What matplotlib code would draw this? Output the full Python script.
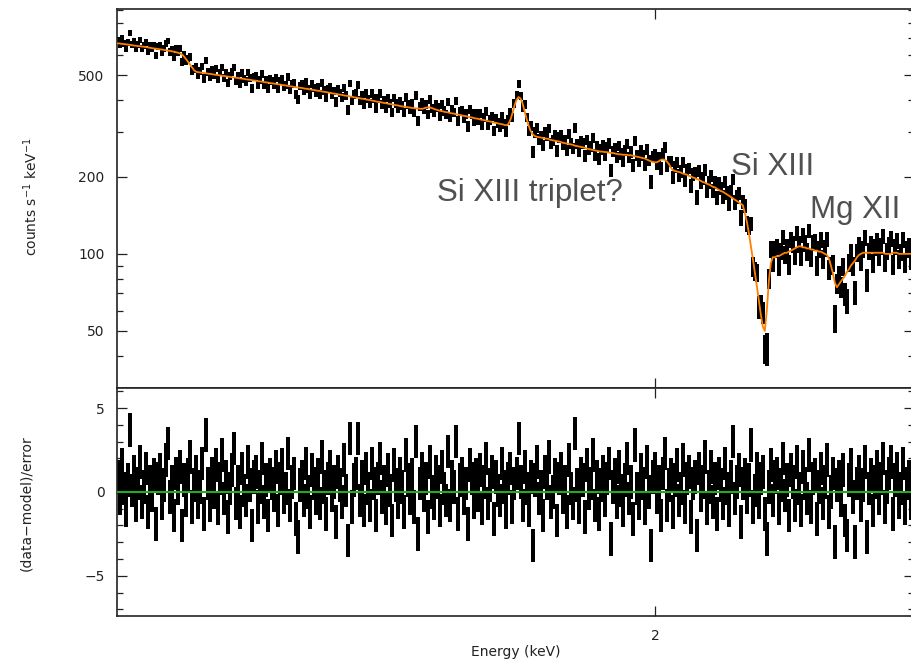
import numpy as np
import matplotlib
matplotlib.use('Agg')
import matplotlib.pyplot as plt
from matplotlib.ticker import FixedLocator, FixedFormatter, NullFormatter

# Energy range of the spectrum (keV), log binned
e_min, e_max = 1.465, 2.323

# Model (counts s^-1 keV^-1) per bin
model_counts = [
    # continuum before the first edge
    665, 664, 662, 661, 659, 658, 656, 654, 652, 651, 649, 648, 646, 645, 643, 641, 639, 637, 635, 634,
    632, 630, 629, 627, 625, 623, 621, 619, 617, 614, 611, 607, 602,
    # edge
    590, 577, 563, 549, 535, 522, 515,
    513, 512, 510, 509, 508, 506, 505, 504, 502, 501, 500, 498, 497, 496, 494, 493, 492, 490, 489, 488,
    487, 485, 484, 483, 481, 480, 479, 477, 476, 475, 473, 472, 471, 469, 468, 467, 465, 464, 463, 461,
    460, 459, 457, 456, 455, 453, 452, 451, 449, 448, 447,
    446, 445, 443, 442, 441, 439, 438, 437, 435, 434, 433, 431, 430, 429, 427, 426, 424, 423, 422, 420,
    419, 418, 416, 415, 414, 412, 411, 409, 408, 407, 405, 404, 403, 401, 400, 399, 397, 396, 394, 393,
    392, 390, 389, 388, 386, 385, 384, 382, 381, 380, 378,
    377, 376, 375, 374, 373, 372, 371, 370, 370, 369, 369, 371, 373, 374, 373, 371, 368, 366, 364, 362,
    361, 359, 358, 357, 355, 354, 353, 351, 350, 349, 347, 346, 345, 343, 342, 341, 339, 338, 337, 335,
    334, 333, 331, 330, 329, 327, 326, 325, 323, 322, 321, 319, 318,
    # Si XIII triplet emission
    322, 335, 355, 380, 400, 410, 405, 388, 362, 338, 318, 303, 294, 289, 287, 286, 285,
    284, 283, 282, 281, 279, 278, 277, 276, 275, 274, 272, 271, 270, 269, 268, 267, 265, 264, 263, 262,
    261, 260, 258, 257, 256, 255, 254, 253, 252, 251,
    251, 250, 250, 249, 248, 248, 247, 246, 245, 245, 244, 244, 244, 243, 243, 242, 241, 240, 239, 238,
    237, 236, 234, 232, 230, 229, 228, 228, 230, 233, 234,
    233, 230, 225, 218, 213, 211, 210, 209, 208, 206, 205, 204, 202, 201, 199, 198, 196, 195, 193, 191,
    190, 188, 187, 185, 183, 182, 180, 178, 176, 175, 173, 171, 169, 167, 165, 163, 161, 159, 157, 155,
    # Si XIII absorption
    145, 134, 121, 108, 96, 85, 75, 66, 58, 52, 50, 60, 78, 92, 97,
    97, 98, 98, 99, 100, 101, 101, 102, 103, 104, 105, 106, 107, 107, 106, 106, 105, 105, 104, 104,
    103, 103, 102, 102, 101, 100, 99,
    # Mg XII absorption
    96, 90, 84, 77, 74, 76, 78, 80, 82, 85, 87, 90, 92, 94, 97, 99, 100,
    101, 101, 101, 101, 101, 101, 101, 101, 101, 101, 101, 100, 100, 100, 100, 101, 101, 101, 100, 100,
    100, 100, 100, 100, 100, 100,
]

# (data-model)/error per bin
residuals = [
    0.9, -0.4, 1.6, 0.2, -1.1, 0.7, 3.7, 0.1, 1.2, -0.8, 0.5, 1.8, -0.6, 0.3, 1.4, -1.2, 0.6, -0.2, 1.0, -1.9,
    0.8, 1.3, -0.7, 0.4, 1.9, 2.9, -0.3, 0.6, -1.4, 1.1, 0.2, 1.5, -2.0, 0.7, -0.5, 1.0, 2.1, -0.9, 0.4, 1.2,
    -0.6, 0.3, 1.7, -1.3, 3.4, 0.5, -0.8, 1.1, 0.0, 1.6, -1.0, 0.8, 2.2, -0.4, 0.9, -1.5, 0.2, 1.3, 2.6, -0.7,
    0.6, -1.2, 1.4, 0.1, -0.5, 1.8, 0.4, -2.0, 0.9, 1.2, -0.9, 0.3, 2.0, -0.6, 0.7, -1.4, 1.0, 0.5, -0.2, 1.5,
    -1.1, 0.8, 1.6, -0.3, 0.2, 2.3, -0.8, 0.6, 1.1, -1.6, -2.7, 0.4, 0.9, -0.5, 1.7, 0.0, -1.2, 1.3, 0.5, -0.4,
    1.0, -0.7, 2.1, 0.3, -1.3, 0.8, 1.5, -0.2, 0.6, -1.8, 1.2, 0.4, -0.6, 1.9, 0.1, -2.9, 3.2, -0.9, 0.7, 1.1,
    3.2, -0.5, 0.9, -1.1, 1.4, 0.2, -0.8, 1.7, 0.5, -1.4, 0.8, 2.0, -0.3, 0.6, -1.0, 1.3, 0.1, -1.7, 1.6, 0.4,
    -0.6, 1.1, 0.3, -1.2, 2.2, 0.7, -0.4, 1.0, -0.9, 3.0, -2.5, 0.5, 1.4, -0.2, 0.8, -1.5, 1.8, 0.0, -0.7, 1.2,
    0.6, -1.1, 1.5, 0.2, -0.5, 2.4, -0.8, 0.9, 0.3, 3.0, -1.3, 0.7, 1.1, -0.4, 0.5, -1.9, 1.6, 0.8, -0.6, 1.0,
    -0.2, 1.3, -1.0, 0.6, 2.0, -0.7, 0.4, 1.2, -1.6, 0.9, 0.1, -0.5, 1.7, 0.3, -1.2, 0.8, 1.4, -0.9, 0.5, 1.1,
    3.2, 0.6, -0.8, 1.5, 0.2, -1.1, 0.9, -3.2, 0.7, 1.8, -0.4, 0.3, -1.4, 1.2, 0.5, 2.1, -0.6, 0.0, 1.0, -1.7,
    0.8, 1.4, -0.3, 0.6, -1.2, 1.9, 0.2, -0.7, 3.5, 0.4, -0.9, 1.1, 0.7, -1.5, 1.6, -0.1, 0.5, 2.2, -0.8, 0.9,
    -1.3, 0.4, 1.2, -0.5, 0.8, 1.7, -2.8, 0.3, 1.0, -0.6, 1.5, 0.1, -1.1, 0.7, 2.0, -0.4, 0.6, -1.6, 2.8, 0.2,
    -0.7, 1.3, 0.5, -1.0, 1.8, 0.0, -3.2, 0.9, 1.4, -0.3, 0.6, -1.4, 1.1, 2.3, -0.8, 0.4, 1.0, -1.2, 0.7, 1.6,
    -0.5, 0.2, 1.9, -0.9, 0.8, 1.2, -1.5, 0.5, 0.9, -2.6, 1.4, -0.2, 0.6, 2.1, -1.0, 0.3, 1.5, -0.6, 0.8, -1.3,
    1.1, 0.4, -0.7, 1.7, 0.2, -1.1, 0.9, 3.0, -0.4, 0.6, 1.3, -1.8, 0.5, 1.0, -0.3, 0.7, 2.8, -0.9, 0.1, 1.4,
    -0.6, 0.8, 1.2, -1.3, -2.8, 0.3, 1.6, -0.5, 0.9, 1.1, -1.0, 0.4, 2.0, -0.2, 0.7, -1.4, 1.3, 0.6, -0.8, 1.8,
    0.2, -1.1, 1.5, 0.5, -0.4, 2.2, -0.9, 0.8, 1.0, -1.6, 0.3, 1.4, -0.7, 0.6, 1.9, -1.2, 0.0, 1.1, -3.0, 0.4,
    0.9, -0.5, 1.3, -1.7, -2.6, 0.7, 1.6, -0.3, -3.0, 0.5, 1.2, -0.8, 0.4, 1.8, -2.7, 0.2, 1.0, -1.1, 0.6, 1.5,
    -0.4, 0.8, 2.0, -0.9, 0.3, 1.1, 1.8, -1.3, 0.7, 1.4, -0.6, 0.2, 1.7, -1.0, 0.5, 0.9, -0.7, 1.2,
]

# Line labels: (text, x in axes fraction, y in axes fraction)
labels = [('Si XIII triplet?', 0.4015, 0.515), ('Si XIII', 0.770, 0.583), ('Mg XII', 0.8695, 0.470)]

model = np.array(model_counts, dtype=float)
resid = np.array(residuals)
edges = np.geomspace(e_min, e_max, len(model) + 1)
energy = np.sqrt(edges[:-1] * edges[1:])
xerr = [energy - edges[:-1], edges[1:] - energy]
err = 0.8 * np.sqrt(model)  # Poisson-like error bars
data = model + resid * err

W, H = 912, 664
fig = plt.figure(figsize=(W / 100, H / 100), dpi=100)
ax1 = fig.add_axes([117 / W, 1 - 388 / H, 797 / W, 379 / H])
ax2 = fig.add_axes([117 / W, 1 - 616 / H, 797 / W, 228 / H])

# Top panel: data + model
eb1 = ax1.errorbar(energy, data, xerr=xerr, yerr=err, fmt='none', ecolor='black', elinewidth=1.5)
ax1.plot(energy, model, color='#ff8000', lw=1.3, zorder=3)
ax1.set_yscale('log')
ax1.set_ylim(29.9, 906)
ax1.yaxis.set_major_locator(FixedLocator([50, 100, 200, 500]))
ax1.yaxis.set_minor_locator(FixedLocator([40, 60, 70, 80, 90, 300, 400, 600, 700, 800, 900]))
ax1.yaxis.set_major_formatter(FixedFormatter(['50', '100', '200', '500']))
ax1.yaxis.set_minor_formatter(NullFormatter())

# Bottom panel: residuals
eb2 = ax2.errorbar(energy, resid, xerr=xerr, yerr=1.0, fmt='none', ecolor='black', elinewidth=1.5)
ax2.axhline(0, color='#22aa22', lw=1.5, zorder=3)
ax2.set_ylim(-7.4, 6.2)
ax2.yaxis.set_major_locator(FixedLocator([-5, 0, 5]))
ax2.yaxis.set_minor_locator(FixedLocator([-7, -6, -4, -3, -2, -1, 1, 2, 3, 4, 6]))
ax2.yaxis.set_major_formatter(FixedFormatter(['\u22125', '0', '5']))

# crisp bars like the PGPLOT output
for eb in (eb1, eb2):
    for lc in eb.lines[2]:
        lc.set_antialiased(False)

for ax in (ax1, ax2):
    ax.set_xscale('log')
    ax.set_xlim(e_min, e_max)
    ax.xaxis.set_major_locator(FixedLocator([2]))
    ax.xaxis.set_minor_locator(FixedLocator([]))
    ax.xaxis.set_minor_formatter(NullFormatter())
    ax.tick_params(which='both', direction='in', top=True, right=True, colors='#222222',
                   labelsize=10, width=0.9)
    ax.tick_params(which='major', length=7, pad=9)
    ax.tick_params(which='minor', length=4)
    for s in ax.spines.values():
        s.set_linewidth(1.2)
        s.set_color('#222222')

ax1.xaxis.set_major_formatter(NullFormatter())
ax2.xaxis.set_major_formatter(FixedFormatter(['2']))

for txt, x, y in labels:
    ax1.text(x, y, txt, transform=ax1.transAxes, ha='left', va='center',
             fontsize=22.5, family='Liberation Sans', color='#505050')

fig.text(31 / W, 1 - 197 / H, 'counts s$^{-1}$ keV$^{-1}$', rotation=90, ha='center', va='center',
         fontsize=10, color='#222222')
fig.text(26 / W, 1 - 503 / H, '(data\u2212model)/error', rotation=90, ha='center', va='center',
         fontsize=10, color='#222222')
fig.text(516 / W, 1 - 652 / H, 'Energy (keV)', ha='center', va='center', fontsize=10, color='#222222')

fig.savefig('out.png', dpi=100)
